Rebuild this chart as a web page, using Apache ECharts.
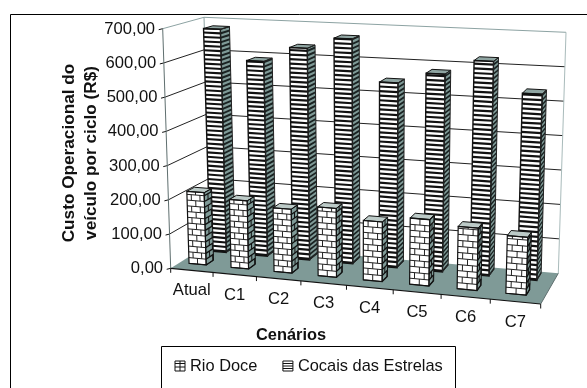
<!DOCTYPE html>
<html>
<head>
<meta charset="utf-8">
<style>html,body{margin:0;padding:0;background:#fff}#chart{width:587px;height:388px}</style>
<script src="https://cdn.jsdelivr.net/npm/echarts@6/dist/echarts.min.js"></script>
</head>
<body>
<div id="chart"></div>
<script>
// Custo operacional por cenário
const cenarios = ['Atual', 'C1', 'C2', 'C3', 'C4', 'C5', 'C6', 'C7'];
const rioDoce = [213, 199, 185, 198, 170, 188, 175, 161];
const cocaisEstrelas = [677, 586, 632, 666, 543, 576, 620, 533];
const valorTicks = [0, 100, 200, 300, 400, 500, 600, 700];
const valorLabels = ['0,00', '100,00', '200,00', '300,00', '400,00', '500,00', '600,00', '700,00'];

const FONT = '"Liberation Sans", Arial, sans-serif';
const TEAL = '#7f9a97';
const INK = '#111';

// Corners of the 3D box on the page: [u][v] for the front and the back plane.
const FRONT = { a: [170.7, 268.3], b: [540.7, 304], c: [162.7, 28.7], d: [549, 48] };
const BACK = { a: [211, 243], b: [558.3, 273.3], c: [204, 17.3], d: [566, 32.3] };
const PERSPECTIVE_K = 1.105;

function mix(p, q, t) { return [p[0] + (q[0] - p[0]) * t, p[1] + (q[1] - p[1]) * t]; }

// u: along the categories, v: along the values, w: depth, all in 0..1.
function project(u, v, w) {
  const t = u / (u + PERSPECTIVE_K * (1 - u));
  const bottom = mix(mix(FRONT.a, FRONT.b, t), mix(BACK.a, BACK.b, t), w);
  const top = mix(mix(FRONT.c, FRONT.d, t), mix(BACK.c, BACK.d, t), w);
  return mix(bottom, top, v);
}

function poly(points, fill, stroke, lineWidth) {
  return { type: 'polygon', shape: { points }, style: { fill: fill || 'none', stroke: stroke || 'none', lineWidth: lineWidth || 0 } };
}
function seg(p, q, stroke, lineWidth) {
  return { type: 'line', shape: { x1: p[0], y1: p[1], x2: q[0], y2: q[1] }, style: { stroke, lineWidth: lineWidth || 1, fill: 'none' } };
}
function label(text, x, y, align, font) {
  return { type: 'text', style: { text, x, y, align, verticalAlign: 'middle', fill: '#111', font } };
}

// Converts a data point to normalised box coordinates through the chart's own axes.
function toBox(params, api, cat, value, offset) {
  const rect = params.coordSys;
  const pt = api.coord([cat, value]);
  const band = api.size([1, 0])[0];
  return {
    u: (pt[0] - band / 2 + band * offset - rect.x) / rect.width,
    v: (rect.y + rect.height - pt[1]) / rect.height
  };
}

function renderFrame(params, api) {
  const kids = [];
  const top = toBox(params, api, 0, 700, 0).v;
  const uEnd = toBox(params, api, cenarios.length - 1, 0, 1).u;

  kids.push(poly([project(0, 0, 0), project(0, 0, 1), project(0, top, 1), project(0, top, 0)], '#fff'));
  kids.push(poly([project(0, 0, 1), project(uEnd, 0, 1), project(uEnd, top, 1), project(0, top, 1)], '#fff'));

  valorTicks.forEach(function (tick, i) {
    const v = toBox(params, api, 0, tick, 0).v;
    const isTop = tick === 700;
    const color = isTop ? '#8da3a3' : '#222';
    if (tick > 0) {
      kids.push(seg(project(0, v, 0), project(0, v, 1), color, 1));
      kids.push(seg(project(0, v, 1), project(uEnd, v, 1), color, 1));
    }
    const p = project(0, v, 0);
    kids.push(seg([p[0] - 4, p[1] + 1], p, '#111', 1));
    kids.push(label(valorLabels[i], p[0] - 7.6, p[1] + 0.5, 'right', '16.6px ' + FONT));
  });

  kids.push(seg(project(0, 0, 0), project(0, top, 0), '#5f6f6f', 1));
  kids.push(seg(project(0, 0, 1), project(0, top, 1), '#8da3a3', 1));
  kids.push(seg(project(uEnd, 0, 1), project(uEnd, top, 1), '#a9bbbb', 1));

  kids.push(poly([project(0, 0, 0), project(uEnd, 0, 0), project(uEnd, 0, 1), project(0, 0, 1)], TEAL));
  kids.push(seg(project(0, 0, 0), project(uEnd, 0, 0), '#111', 1.2));
  kids.push(seg(project(uEnd, 0, 0), project(uEnd, 0, 1), '#5f6f6f', 1));

  for (let i = 0; i <= cenarios.length; i++) {
    const u = i < cenarios.length ? toBox(params, api, i, 0, 0).u : uEnd;
    const p = project(u, 0, 0);
    kids.push(seg(p, [p[0], p[1] + 4.5], '#111', 1));
  }
  cenarios.forEach(function (name, i) {
    const u = toBox(params, api, i, 0, 0.5).u;
    const p = project(u, 0, 0);
    kids.push(label(name, p[0], p[1] + 20.5, 'center', '16.6px ' + FONT));
  });
  return { type: 'group', children: kids };
}

// Stripes run horizontally round the front and the side of each bar.
function renderStriped(params, api) {
  const cat = api.value(0), val = api.value(1);
  const u0 = toBox(params, api, cat, 0, 0.26).u;
  const u1 = toBox(params, api, cat, 0, 0.66).u;
  const vTop = toBox(params, api, cat, val, 0).v;
  const w0 = 0.72, w1 = 0.95;
  const kids = [];
  kids.push(poly([project(u1, 0, w0), project(u1, 0, w1), project(u1, vTop, w1), project(u1, vTop, w0)], TEAL));
  kids.push(poly([project(u0, 0, w0), project(u1, 0, w0), project(u1, vTop, w0), project(u0, vTop, w0)], '#fff'));
  const step = 13.5, thick = 6.4;
  for (let s = 0; s < val; s += step) {
    const a = toBox(params, api, cat, s, 0).v;
    const b = toBox(params, api, cat, Math.min(s + thick, val), 0).v;
    kids.push(poly([project(u0, a, w0), project(u1, a, w0), project(u1, b, w0), project(u0, b, w0)], INK));
    kids.push(poly([project(u1, a, w0), project(u1, a, w1), project(u1, b, w1), project(u1, b, w0)], '#1a2222'));
  }
  kids.push(poly([project(u0, vTop, w0), project(u1, vTop, w0), project(u1, vTop, w1), project(u0, vTop, w1)], '#8fa5a2', INK, 1));
  kids.push(poly([project(u0, 0, w0), project(u1, 0, w0), project(u1, vTop, w0), project(u0, vTop, w0)], 'none', INK, 1.4));
  kids.push(poly([project(u1, 0, w0), project(u1, 0, w1), project(u1, vTop, w1), project(u1, vTop, w0)], 'none', '#222', 1));
  return { type: 'group', children: kids };
}

// Brick courses on the front and the side of each bar.
function renderBrick(params, api) {
  const cat = api.value(0), val = api.value(1);
  const u0 = toBox(params, api, cat, 0, 0.22).u;
  const u1 = toBox(params, api, cat, 0, 0.63).u;
  const vTop = toBox(params, api, cat, val, 0).v;
  const w0 = 0.23, w1 = 0.42;
  const kids = [];
  kids.push(poly([project(u1, 0, w0), project(u1, 0, w1), project(u1, vTop, w1), project(u1, vTop, w0)], TEAL));
  kids.push(poly([project(u0, 0, w0), project(u1, 0, w0), project(u1, vTop, w0), project(u0, vTop, w0)], '#fff'));
  const step = 17;
  let row = 0;
  for (let s = 0; s < val; s += step, row++) {
    const a = toBox(params, api, cat, s, 0).v;
    const b = toBox(params, api, cat, Math.min(s + step, val), 0).v;
    kids.push(seg(project(u0, a, w0), project(u1, a, w0), '#222', 1));
    kids.push(seg(project(u1, a, w0), project(u1, a, w1), '#111', 1.3));
    const joints = row % 2 ? [0.25, 0.75] : [0.5];
    joints.forEach(function (f) {
      const u = u0 + (u1 - u0) * f;
      kids.push(seg(project(u, a, w0), project(u, b, w0), '#222', 1));
    });
    const w = row % 2 ? w0 + (w1 - w0) * 0.5 : w0 + (w1 - w0) * 0.9;
    kids.push(seg(project(u1, a, w), project(u1, b, w), '#111', 1));
  }
  kids.push(poly([project(u0, vTop, w0), project(u1, vTop, w0), project(u1, vTop, w1), project(u0, vTop, w1)], '#bccac7', INK, 1));
  kids.push(poly([project(u0, 0, w0), project(u1, 0, w0), project(u1, vTop, w0), project(u0, vTop, w0)], 'none', INK, 1.2));
  kids.push(poly([project(u1, 0, w0), project(u1, 0, w1), project(u1, vTop, w1), project(u1, vTop, w0)], 'none', INK, 1));
  return { type: 'group', children: kids };
}

const chart = echarts.init(document.getElementById('chart'), null, { renderer: 'canvas' });
chart.setOption({
  animation: false,
  backgroundColor: '#fff',
  grid: { left: 0, top: 0, width: 587, height: 388 },
  xAxis: { type: 'category', data: cenarios, show: false },
  yAxis: { type: 'value', min: 0, max: 700, interval: 100, show: false },
  legend: {
    left: 172.5,
    top: 358,
    padding: 0,
    itemWidth: 10,
    itemHeight: 10,
    itemGap: 23,
    textStyle: { fontFamily: FONT, fontSize: 16.4, color: '#111', padding: [0, 0, 0, 0] },
    data: [
      { name: 'Rio Doce', icon: 'path://M0 0H10V10H0Z M0 2.5H10 M0 6H10 M5 0V10', itemStyle: { color: 'none', borderColor: '#111', borderWidth: 1 } },
      { name: 'Cocais das Estrelas', icon: 'path://M0 0H10V10H0Z M0 2.5H10 M0 5H10 M0 7.5H10', itemStyle: { color: 'none', borderColor: '#111', borderWidth: 1 } }
    ]
  },
  graphic: [
    { type: 'rect', z: -10, shape: { x: 10.5, y: 14.5, width: 700, height: 500 }, style: { fill: '#fff', stroke: '#000', lineWidth: 1 } },
    { type: 'rect', z: -5, shape: { x: 161.5, y: 346.5, width: 294, height: 100 }, style: { fill: '#fff', stroke: '#000', lineWidth: 1 } },
    { type: 'text', z: 5, x: 69, y: 153, rotation: Math.PI / 2, style: { text: 'Custo Operacional do', font: 'bold 17.2px ' + FONT, fill: '#111', align: 'center', verticalAlign: 'middle' } },
    { type: 'text', z: 5, x: 91, y: 153, rotation: Math.PI / 2, style: { text: 'veículo por ciclo (R$)', font: 'bold 17.2px ' + FONT, fill: '#111', align: 'center', verticalAlign: 'middle' } },
    { type: 'text', z: 5, x: 291, y: 335, style: { text: 'Cenários', font: 'bold 16.4px ' + FONT, fill: '#111', align: 'center', verticalAlign: 'middle' } }
  ],
  series: [
    { type: 'custom', name: 'eixos', silent: true, z: 1, data: [[0, 0]], renderItem: renderFrame },
    { type: 'custom', name: 'Cocais das Estrelas', silent: true, z: 2, data: cocaisEstrelas.map(function (v, i) { return [i, v]; }), encode: { x: 0, y: 1 }, renderItem: renderStriped },
    { type: 'custom', name: 'Rio Doce', silent: true, z: 3, data: rioDoce.map(function (v, i) { return [i, v]; }), encode: { x: 0, y: 1 }, renderItem: renderBrick }
  ]
});
</script>
</body>
</html>
